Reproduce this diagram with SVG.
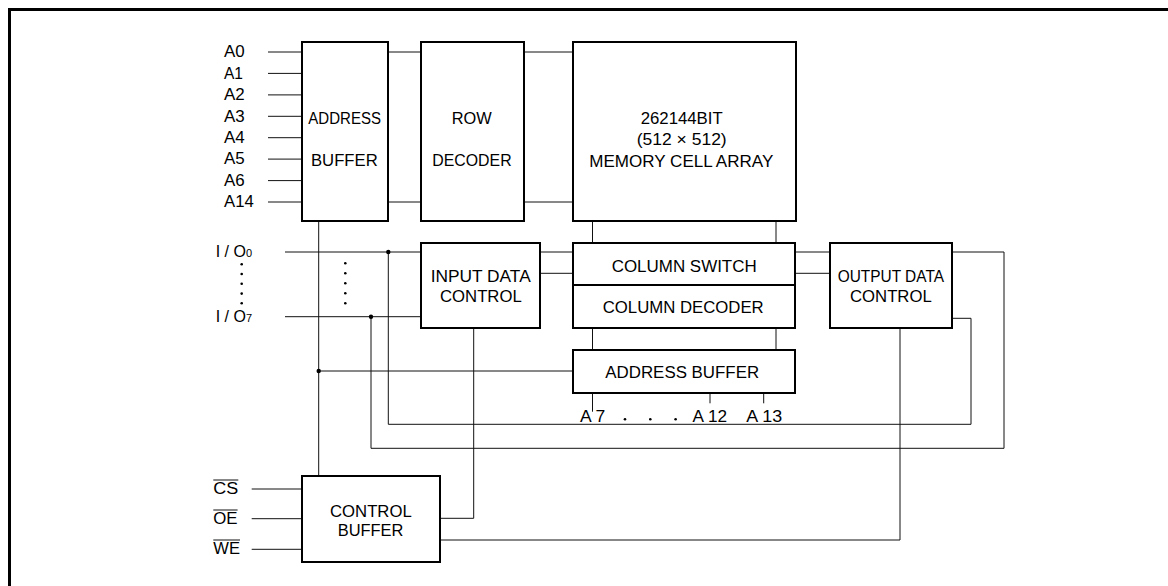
<svg xmlns="http://www.w3.org/2000/svg" width="1168" height="586" viewBox="0 0 1168 586">
<style>
text{font-family:"Liberation Sans",Arial,sans-serif;font-size:16px;fill:#000}
.box{fill:#fff;stroke:#000;stroke-width:2}
.w{fill:none;stroke:#111;stroke-width:1}
.sub{font-size:11px}
</style>
<rect x="0" y="0" width="1168" height="586" fill="#fff"/>
<rect x="9.5" y="9.5" width="1300" height="700" fill="none" stroke="#000" stroke-width="3"/>
<g id="connectors">
<path class="w" d="M268 52H302M268 73.4H302M268 94.9H302M268 116.3H302M268 137.7H302M268 159.1H302M268 180.6H302M268 202H302"/>
<path class="w" d="M388 52H421M388 202H421M524 52H573M524 202H573"/>
<path class="w" d="M592.5 221V243M776 221V243M592.5 328V350M776 328V350"/>
<path class="w" d="M318.7 221V476M318.7 371H573"/>
<path class="w" d="M285 252H421M285 316.7H421"/>
<path class="w" d="M540 252H573M540 273.3H573M795 252H830M795 273.3H830"/>
<path class="w" d="M952 252H1004V448.3H371V316.7"/>
<path class="w" d="M952 318.3H971V424.3H388.3V252"/>
<path class="w" d="M473.7 328V518.3H440M900 328V540H440"/>
<path class="w" d="M251.7 489H302M251.7 518.7H302M251.7 549.3H302"/>
<path class="w" d="M592.5 393V411.7M710 393V403.3M763.7 393V403.3"/>
<circle cx="318.7" cy="371" r="2.2"/>
<circle cx="388.3" cy="252" r="2.2"/>
<circle cx="371" cy="316.7" r="2.2"/>
</g>
<g id="address-inputs">
<text x="224" y="57.3" textLength="20.7" lengthAdjust="spacingAndGlyphs">A0</text>
<text x="224" y="78.7" textLength="19" lengthAdjust="spacingAndGlyphs">A1</text>
<text x="224" y="100.2" textLength="20.7" lengthAdjust="spacingAndGlyphs">A2</text>
<text x="224" y="121.6" textLength="20.7" lengthAdjust="spacingAndGlyphs">A3</text>
<text x="224" y="143" textLength="20.7" lengthAdjust="spacingAndGlyphs">A4</text>
<text x="224" y="164.4" textLength="20.7" lengthAdjust="spacingAndGlyphs">A5</text>
<text x="224" y="185.9" textLength="20.7" lengthAdjust="spacingAndGlyphs">A6</text>
<text x="224" y="207.3" textLength="29.7" lengthAdjust="spacingAndGlyphs">A14</text>
</g>
<g id="address-buffer">
<rect class="box" x="302" y="42" width="86" height="179"/>
<text x="308.3" y="124" textLength="72.7" lengthAdjust="spacingAndGlyphs">ADDRESS</text>
<text x="311" y="165.7" textLength="66.7" lengthAdjust="spacingAndGlyphs">BUFFER</text>
</g>
<g id="row-decoder">
<rect class="box" x="421" y="42" width="103" height="179"/>
<text x="451.7" y="123.5" textLength="40" lengthAdjust="spacingAndGlyphs">ROW</text>
<text x="432.3" y="165.7" textLength="79.3" lengthAdjust="spacingAndGlyphs">DECODER</text>
</g>
<g id="memory-cell-array">
<rect class="box" x="573" y="42" width="223" height="179"/>
<text x="640.7" y="124" textLength="82" lengthAdjust="spacingAndGlyphs">262144BIT</text>
<text x="636.7" y="145" textLength="90" lengthAdjust="spacingAndGlyphs">(512 × 512)</text>
<text x="589.3" y="166.7" textLength="184" lengthAdjust="spacingAndGlyphs">MEMORY CELL ARRAY</text>
</g>
<g id="io-labels">
<text x="215.7" y="257">I / O<tspan class="sub">0</tspan></text>
<text x="215.7" y="321.7">I / O<tspan class="sub">7</tspan></text>
<circle cx="241.7" cy="264.3" r="1.3"/><circle cx="241.7" cy="274" r="1.3"/><circle cx="241.7" cy="283.8" r="1.3"/><circle cx="241.7" cy="293.6" r="1.3"/><circle cx="241.7" cy="303.3" r="1.3"/>
<circle cx="345.3" cy="263.3" r="1.3"/><circle cx="345.3" cy="273.3" r="1.3"/><circle cx="345.3" cy="283.3" r="1.3"/><circle cx="345.3" cy="293.3" r="1.3"/><circle cx="345.3" cy="303.3" r="1.3"/>
</g>
<g id="input-data-control">
<rect class="box" x="421" y="243" width="119" height="85"/>
<text x="430.7" y="281.7" textLength="100" lengthAdjust="spacingAndGlyphs">INPUT DATA</text>
<text x="440" y="301.7" textLength="81.7" lengthAdjust="spacingAndGlyphs">CONTROL</text>
</g>
<g id="column-switch">
<rect class="box" x="573" y="243" width="222" height="42"/>
<text x="611.7" y="271.7" textLength="145" lengthAdjust="spacingAndGlyphs">COLUMN SWITCH</text>
</g>
<g id="column-decoder">
<rect class="box" x="573" y="285" width="222" height="43"/>
<text x="602.7" y="313.3" textLength="161" lengthAdjust="spacingAndGlyphs">COLUMN DECODER</text>
</g>
<g id="output-data-control">
<rect class="box" x="830" y="243" width="122" height="85"/>
<text x="837.7" y="281.7" textLength="106.3" lengthAdjust="spacingAndGlyphs">OUTPUT DATA</text>
<text x="850" y="301.7" textLength="81.7" lengthAdjust="spacingAndGlyphs">CONTROL</text>
</g>
<g id="column-address-buffer">
<rect class="box" x="573" y="350" width="222" height="43"/>
<text x="605.3" y="377.7" textLength="153.8" lengthAdjust="spacingAndGlyphs">ADDRESS BUFFER</text>
<text x="580" y="421.7" textLength="25.3" lengthAdjust="spacingAndGlyphs">A 7</text>
<circle cx="625" cy="419.3" r="1.3"/><circle cx="650.3" cy="419.3" r="1.3"/><circle cx="675.6" cy="419.3" r="1.3"/>
<text x="692.6" y="421.7" textLength="34.4" lengthAdjust="spacingAndGlyphs">A 12</text>
<text x="746.3" y="421.7" textLength="35.8" lengthAdjust="spacingAndGlyphs">A 13</text>
</g>
<g id="control-buffer">
<rect class="box" x="302" y="476" width="138" height="86"/>
<text x="330" y="516.7" textLength="81.7" lengthAdjust="spacingAndGlyphs">CONTROL</text>
<text x="337.7" y="536" textLength="65.7" lengthAdjust="spacingAndGlyphs">BUFFER</text>
</g>
<g id="control-inputs">
<text x="213.3" y="494.3" textLength="25" lengthAdjust="spacingAndGlyphs">CS</text>
<path class="w" d="M213.3 480H238.3"/>
<text x="213.3" y="524.3" textLength="24.3" lengthAdjust="spacingAndGlyphs">OE</text>
<path class="w" d="M213.3 510H237.6"/>
<text x="213.3" y="554.3" textLength="26.7" lengthAdjust="spacingAndGlyphs">WE</text>
<path class="w" d="M213.3 540H240"/>
</g>
</svg>
